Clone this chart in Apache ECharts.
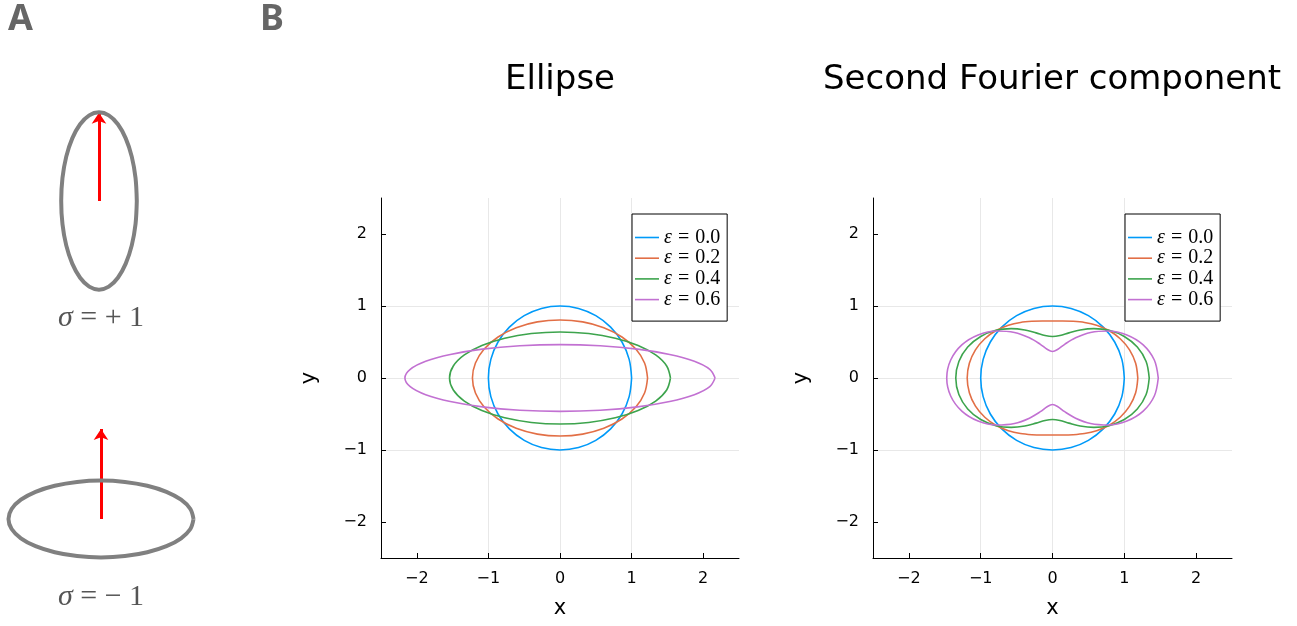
<!DOCTYPE html>
<html>
<head>
<meta charset="utf-8">
<title>Ellipse / Second Fourier component</title>
<script src="https://cdn.jsdelivr.net/npm/echarts@6/dist/echarts.min.js"></script>
<style>
  html, body { margin: 0; padding: 0; background: #fff; }
  #main { width: 1297px; height: 626px; }
</style>
</head>
<body>
<div id="main"></div>
<script>
// tick labels shared by both panels
var xTicks = [-2, -1, 0, 1, 2];
var yTicks = [-2, -1, 0, 1, 2];
var epsNames = ['ε = 0.0', 'ε = 0.2', 'ε = 0.4', 'ε = 0.6'];
var colors = ['#009af9', '#e26f46', '#3da44d', '#c271d2'];

// contour points [x, y] (loop closed)
var circle = [[1,0],[0.966,0.259],[0.866,0.5],[0.707,0.707],[0.5,0.866],[0.259,0.966],[0,1],[-0.259,0.966],[-0.5,0.866],[-0.707,0.707],[-0.866,0.5],[-0.966,0.259],[-1,0],[-0.966,-0.259],[-0.866,-0.5],[-0.707,-0.707],[-0.5,-0.866],[-0.259,-0.966],[0,-1],[0.259,-0.966],[0.5,-0.866],[0.707,-0.707],[0.866,-0.5],[0.966,-0.259],[1,0]];
var ellipse02 = [[1.223,0],[1.181,0.209],[1.059,0.403],[0.865,0.57],[0.612,0.698],[0.317,0.779],[0,0.806],[-0.317,0.779],[-0.612,0.698],[-0.865,0.57],[-1.059,0.403],[-1.181,0.209],[-1.223,0],[-1.181,-0.209],[-1.059,-0.403],[-0.865,-0.57],[-0.612,-0.698],[-0.317,-0.779],[0,-0.806],[0.317,-0.779],[0.612,-0.698],[0.865,-0.57],[1.059,-0.403],[1.181,-0.209],[1.223,0]];
var ellipse04 = [[1.543,0],[1.49,0.166],[1.336,0.32],[1.091,0.452],[0.772,0.553],[0.4,0.617],[0,0.639],[-0.4,0.617],[-0.772,0.553],[-1.091,0.452],[-1.336,0.32],[-1.49,0.166],[-1.543,0],[-1.49,-0.166],[-1.336,-0.32],[-1.091,-0.452],[-0.772,-0.553],[-0.4,-0.617],[0,-0.639],[0.4,-0.617],[0.772,-0.553],[1.091,-0.452],[1.336,-0.32],[1.49,-0.166],[1.543,0]];
var ellipse06 = [[2.166,0],[2.092,0.12],[1.876,0.232],[1.532,0.327],[1.083,0.401],[0.561,0.447],[0,0.463],[-0.561,0.447],[-1.083,0.401],[-1.532,0.327],[-1.876,0.232],[-2.092,0.12],[-2.166,0],[-2.092,-0.12],[-1.876,-0.232],[-1.532,-0.327],[-1.083,-0.401],[-0.561,-0.447],[0,-0.463],[0.561,-0.447],[1.083,-0.401],[1.532,-0.327],[1.876,-0.232],[2.092,-0.12],[2.166,0]];
var fourier02 = [[1.188,0],[1.158,0.204],[1.073,0.391],[0.943,0.545],[0.785,0.659],[0.614,0.732],[0.446,0.772],[0.287,0.788],[0.14,0.792],[0,0.792],[-0.14,0.792],[-0.287,0.788],[-0.446,0.772],[-0.614,0.732],[-0.785,0.659],[-0.943,0.545],[-1.073,0.391],[-1.158,0.204],[-1.188,0],[-1.158,-0.204],[-1.073,-0.391],[-0.943,-0.545],[-0.785,-0.659],[-0.614,-0.732],[-0.446,-0.772],[-0.287,-0.788],[-0.14,-0.792],[0,-0.792],[0.14,-0.792],[0.287,-0.788],[0.446,-0.772],[0.614,-0.732],[0.785,-0.659],[0.943,-0.545],[1.073,-0.391],[1.158,-0.204],[1.188,0]];
var fourier04 = [[1.347,0],[1.304,0.23],[1.181,0.43],[1,0.577],[0.788,0.662],[0.576,0.686],[0.385,0.667],[0.228,0.627],[0.104,0.591],[0,0.577],[-0.104,0.591],[-0.228,0.627],[-0.385,0.667],[-0.576,0.686],[-0.788,0.662],[-1,0.577],[-1.181,0.43],[-1.304,0.23],[-1.347,0],[-1.304,-0.23],[-1.181,-0.43],[-1,-0.577],[-0.788,-0.662],[-0.576,-0.686],[-0.385,-0.667],[-0.228,-0.627],[-0.104,-0.591],[0,-0.577],[0.104,-0.591],[0.228,-0.627],[0.385,-0.667],[0.576,-0.686],[0.788,-0.662],[1,-0.577],[1.181,-0.43],[1.304,-0.23],[1.347,0]];
var fourier06 = [[1.473,0],[1.418,0.25],[1.263,0.46],[1.036,0.598],[0.779,0.653],[0.53,0.632],[0.322,0.558],[0.17,0.468],[0.07,0.395],[0,0.368],[-0.07,0.395],[-0.17,0.468],[-0.322,0.558],[-0.53,0.632],[-0.779,0.653],[-1.036,0.598],[-1.263,0.46],[-1.418,0.25],[-1.473,0],[-1.418,-0.25],[-1.263,-0.46],[-1.036,-0.598],[-0.779,-0.653],[-0.53,-0.632],[-0.322,-0.558],[-0.17,-0.468],[-0.07,-0.395],[0,-0.368],[0.07,-0.395],[0.17,-0.468],[0.322,-0.558],[0.53,-0.632],[0.779,-0.653],[1.036,-0.598],[1.263,-0.46],[1.418,-0.25],[1.473,0]];

// panel A: the same ellipse, standing (sigma = +1) and lying (sigma = -1)
var cellUp = [[0.42,0],[0.406,0.255],[0.364,0.493],[0.297,0.696],[0.21,0.853],[0.109,0.952],[0,0.985],[-0.109,0.952],[-0.21,0.853],[-0.297,0.696],[-0.364,0.493],[-0.406,0.255],[-0.42,0],[-0.406,-0.255],[-0.364,-0.493],[-0.297,-0.696],[-0.21,-0.853],[-0.109,-0.952],[0,-0.985],[0.109,-0.952],[0.21,-0.853],[0.297,-0.696],[0.364,-0.493],[0.406,-0.255],[0.42,0]];
var cellDown = [[1.028,0],[0.993,0.112],[0.89,0.216],[0.727,0.305],[0.514,0.373],[0.266,0.416],[0,0.431],[-0.266,0.416],[-0.514,0.373],[-0.727,0.305],[-0.89,0.216],[-0.993,0.112],[-1.028,0],[-0.993,-0.112],[-0.89,-0.216],[-0.727,-0.305],[-0.514,-0.373],[-0.266,-0.416],[0,-0.431],[0.266,-0.416],[0.514,-0.373],[0.727,-0.305],[0.89,-0.216],[0.993,-0.112],[1.028,0]];
var arrowUp = [[0, 0], [0, 0.98]];
var arrowDown = [[0, 0], [0, 1.01]];

var panels = [
    { curves: [circle, ellipse02, ellipse04, ellipse06] },
    { curves: [circle, fourier02, fourier04, fourier06] }
];

var tickFont = 'DejaVu Sans';
function minusFmt(v) {
    return v < 0 ? '\u2212' + Math.abs(v) : String(v);
}

function valueAxis(gridIndex, name, ticks, isX) {
    return {
        type: 'value',
        gridIndex: gridIndex,
        min: -2.5,
        max: 2.5,
        name: name,
        nameLocation: 'middle',
        nameGap: isX ? 40 : 61,
        nameTextStyle: { fontSize: 21, fontFamily: tickFont, color: '#000' },
        axisLine: { onZero: false, lineStyle: { color: '#000', width: 1 } },
        axisTick: { inside: true, length: 5, customValues: ticks, lineStyle: { color: '#000' } },
        axisLabel: {
            customValues: ticks, formatter: minusFmt, fontSize: 16,
            fontFamily: tickFont, color: '#000', margin: isX ? 13 : 14
        },
        splitLine: { show: true, showMinLine: false, showMaxLine: false, lineStyle: { color: '#e8e8e8', width: 1 } }
    };
}

function hiddenAxis(gridIndex, lo, hi) {
    return { type: 'value', gridIndex: gridIndex, min: lo, max: hi, show: false };
}

var grid = [
    { left: 381, top: 198, width: 358, height: 360 },
    { left: 873, top: 198, width: 359, height: 360 },
    { left: 0, top: 93, width: 198, height: 216 },
    { left: 2, top: 412, width: 198, height: 216 }
];
var xAxis = [valueAxis(0, 'x', xTicks, true), valueAxis(1, 'x', xTicks, true),
    hiddenAxis(2, -1.1, 1.1), hiddenAxis(3, -1.1, 1.1)];
var yAxis = [valueAxis(0, 'y', yTicks, false), valueAxis(1, 'y', yTicks, false),
    hiddenAxis(2, -1.2, 1.2), hiddenAxis(3, -1.2, 1.2)];

var series = [];
panels.forEach(function (p, gi) {
    p.curves.forEach(function (pts, k) {
        series.push({
            type: 'line', name: epsNames[k], xAxisIndex: gi, yAxisIndex: gi,
            data: pts, smooth: 0.34, symbol: 'none', silent: true,
            lineStyle: { color: colors[k], width: 1.6 }, itemStyle: { color: colors[k] }
        });
    });
});
// panel A
[cellUp, cellDown].forEach(function (pts, k) {
    series.push({
        type: 'line', xAxisIndex: 2 + k, yAxisIndex: 2 + k, data: pts, smooth: 0.34,
        symbol: 'none', silent: true, lineStyle: { color: '#808080', width: 4 }
    });
});
[arrowUp, arrowDown].forEach(function (seg, k) {
    series.push({
        type: 'lines', coordinateSystem: 'cartesian2d', xAxisIndex: 2 + k, yAxisIndex: 2 + k,
        data: [{ coords: seg }], symbol: ['none', 'arrow'], symbolSize: 11, silent: true,
        lineStyle: { color: '#ff0000', width: 3, opacity: 1 }
    });
});

// thin bar as legend key (plain line, no marker)
var keyIcon = 'path://M0,0h24v1.6h-24z';

function legendAt(left) {
    return {
        left: left, top: 214, orient: 'vertical', data: epsNames, icon: keyIcon,
        itemWidth: 24, itemHeight: 14, itemGap: 0.7, padding: [13.5, 7, 11.5, 3],
        borderColor: '#000', borderWidth: 1, backgroundColor: '#fff', selectedMode: false,
        formatter: function (n) { return n.replace('ε', '{e|ε}').replace(' = ', ' {q|=} '); },
        textStyle: {
            fontFamily: 'Liberation Serif', fontSize: 20, color: '#000',
            rich: {
                e: { fontFamily: 'Liberation Serif', fontStyle: 'italic', fontSize: 20 },
                q: { fontFamily: 'Liberation Serif', fontSize: 20, padding: [0, 1, 0, 1] }
            }
        }
    };
}

var sigmaRich = {
    s: { font: 'italic 30px "Liberation Serif"', fill: '#555' },
    n: { font: '30px "Liberation Serif"', fill: '#555' }
};

var graphic = [
    { type: 'text', x: 8, y: 2, style: { text: 'A', font: 'bold 36px "Noto Sans"', fill: '#666' } },
    { type: 'text', x: 260, y: 2, style: { text: 'B', font: 'bold 36px "Noto Sans"', fill: '#666' } },
    { type: 'text', x: 560, y: 80, style: { text: 'Ellipse', font: '34px "DejaVu Sans"', fill: '#000', align: 'center', verticalAlign: 'middle' } },
    { type: 'text', x: 1052, y: 80, style: { text: 'Second Fourier component', font: '34px "DejaVu Sans"', fill: '#000', align: 'center', verticalAlign: 'middle' } },
    { type: 'text', x: 101, y: 318, style: { text: '{s|σ}{n| = + 1}', rich: sigmaRich, align: 'center', verticalAlign: 'middle' } },
    { type: 'text', x: 101, y: 597, style: { text: '{s|σ}{n| = \u2212 1}', rich: sigmaRich, align: 'center', verticalAlign: 'middle' } }
];

var chart = echarts.init(document.getElementById('main'));
chart.setOption({
    animation: false,
    backgroundColor: '#fff',
    grid: grid,
    xAxis: xAxis,
    yAxis: yAxis,
    legend: [legendAt(632), legendAt(1125)],
    graphic: graphic,
    series: series
});
</script>
</body>
</html>
